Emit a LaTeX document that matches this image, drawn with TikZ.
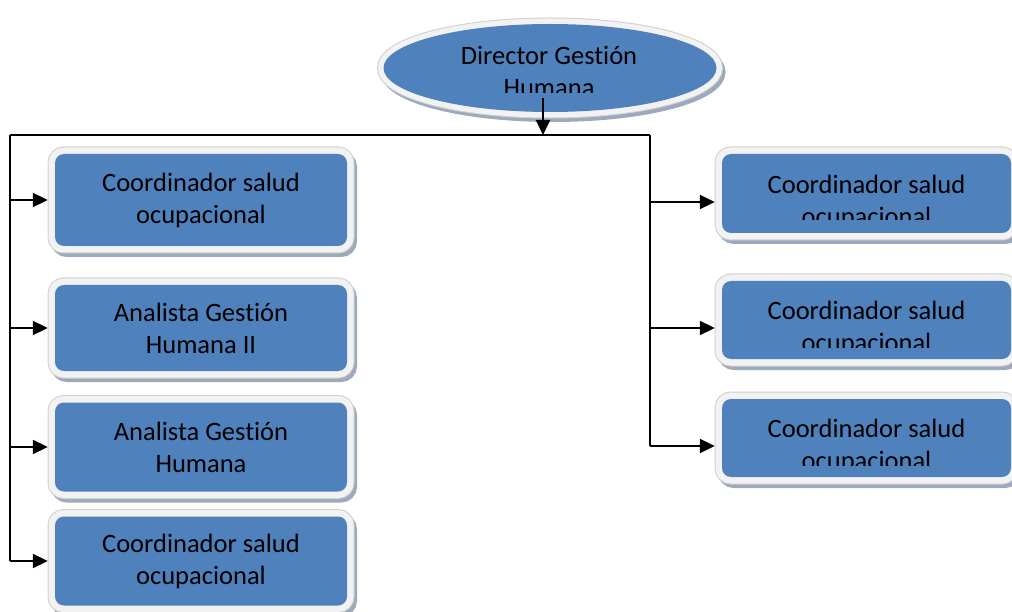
\documentclass[tikz,border=0pt]{standalone}
\usepackage{fontspec}
\setmainfont{Carlito}[Ligatures=NoCommon]
\usetikzlibrary{arrows.meta,shapes.geometric}
\definecolor{boxblue}{HTML}{4F81BD}
\definecolor{haloC}{HTML}{F2F2F2}
\definecolor{haloEdge}{HTML}{CFCFCF}
\definecolor{shadowC}{HTML}{9DAABD}
\begin{document}
\begin{tikzpicture}[x=1pt,y=-1pt,
  boxtext/.style={font=\fontsize{26.5}{32}\selectfont, align=center, text=black, inner sep=0pt},
  bluebox/.style={rectangle, rounded corners=9pt, fill=boxblue, inner sep=0pt,
     boxtext,
     preaction={fill=shadowC, draw=shadowC, line width=14pt, transform canvas={shift={(3pt,-4pt)}}},
     preaction={draw=haloEdge, line width=15pt},
     preaction={draw=haloC, line width=13pt}},
  blueell/.style={ellipse, fill=boxblue, inner sep=0pt,
     preaction={fill=shadowC, draw=shadowC, line width=12pt, transform canvas={shift={(3pt,-4pt)}}},
     preaction={draw=haloEdge, line width=13pt},
     preaction={draw=haloC, line width=11pt}},
  conn/.style={draw=black, line width=2pt},
  arr/.style={conn, -{Triangle[length=15pt,width=14pt]}, shorten >=7pt},
  arrtop/.style={conn, -{Triangle[length=15pt,width=14pt]}}
]
\useasboundingbox (0,0) rectangle (1012,612);
\fill[white] (0,0) rectangle (1012,612);

% director
\node[blueell, minimum width=333pt, minimum height=88pt] (dir) at (550,68) {};
\begin{scope}
  \clip (300,0) rectangle (800,93);
  \node[boxtext] (dirt) at (549,71) {Director Gestión\\Humana};
\end{scope}

% left boxes
\node[bluebox, minimum width=292pt, minimum height=92pt] (b1) at (201,200) {Coordinador salud\\ocupacional};
\node[bluebox, minimum width=292pt, minimum height=86pt] (b2) at (201,328) {Analista Gestión\\Humana II};
\node[bluebox, minimum width=292pt, minimum height=89pt] (b3) at (201,447) {Analista Gestión\\Humana};
\node[bluebox, minimum width=292pt, minimum height=89pt] (b4) at (201,561) {Coordinador salud\\ocupacional};

% right boxes
\node[bluebox, minimum width=289pt, minimum height=79pt] (r1) at (866.5,193.5) {};
\node[bluebox, minimum width=289pt, minimum height=78pt] (r2) at (866.5,320) {};
\node[bluebox, minimum width=289pt, minimum height=78pt] (r3) at (866.5,438) {};
\begin{scope}
  \clip (722,150) rectangle (1012,220);
  \node[boxtext] (r1t) at (866.5,202) {Coordinador salud\\ocupacional};
\end{scope}
\begin{scope}
  \clip (722,275) rectangle (1012,347);
  \node[boxtext] (r2t) at (866.5,328) {Coordinador salud\\ocupacional};
\end{scope}
\begin{scope}
  \clip (722,393) rectangle (1012,465);
  \node[boxtext] (r3t) at (866.5,446) {Coordinador salud\\ocupacional};
\end{scope}

% connectors
\coordinate (ds) at (543,98);
\coordinate (jt) at (543,135);
\coordinate (jl) at (10,135);
\coordinate (jr) at (650,135);
\draw[conn] (jl) -- (jr);
\draw[arrtop] (ds) -- (jt);
\draw[conn] (jl) -- (jl |- b4.west);
\draw[conn] (jr) -- (jr |- r3t.center);
\draw[arr] (jl |- b1.west) -- (b1.west);
\draw[arr] (jl |- b2.west) -- (b2.west);
\draw[arr] (jl |- b3.west) -- (b3.west);
\draw[arr] (jl |- b4.west) -- (b4.west);
\draw[arr] (jr |- r1t.center) -- (r1.west |- r1t.center);
\draw[arr] (jr |- r2t.center) -- (r2.west |- r2t.center);
\draw[arr] (jr |- r3t.center) -- (r3.west |- r3t.center);
\end{tikzpicture}
\end{document}
